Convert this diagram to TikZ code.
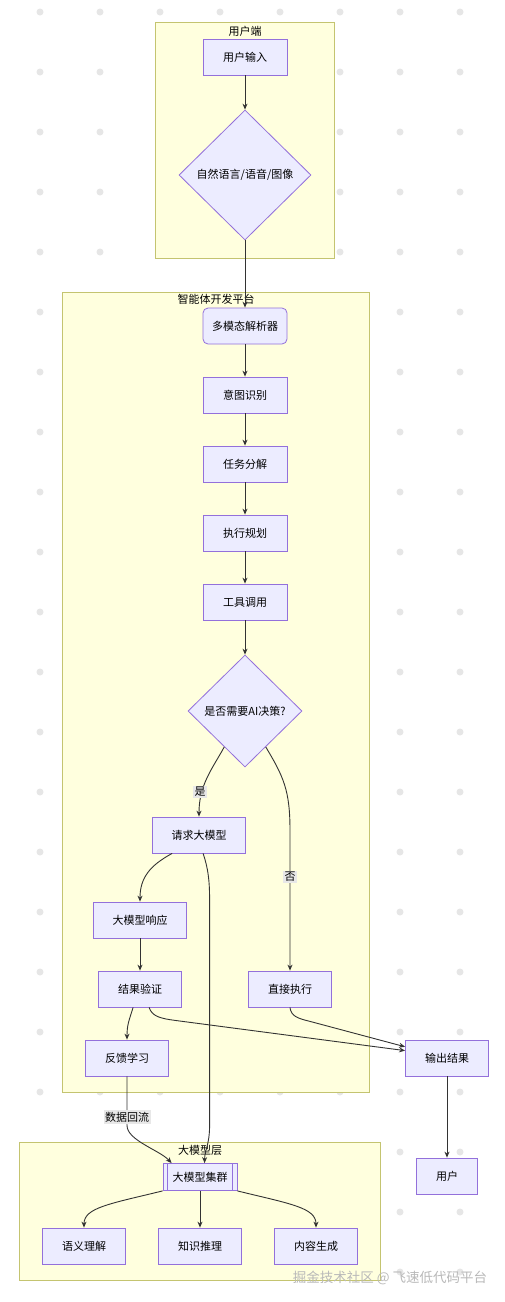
\documentclass[tikz,border=0pt]{standalone}
\usepackage{fontspec}
\setmainfont{Noto Sans CJK SC}
\usetikzlibrary{shapes.geometric,arrows.meta,calc}
\definecolor{nodefill}{HTML}{ECECFF}
\definecolor{nodeline}{HTML}{9370DB}
\definecolor{clfill}{HTML}{FFFFDE}
\definecolor{clline}{HTML}{C4C470}
\definecolor{edgec}{HTML}{333333}
\definecolor{dotc}{HTML}{E6E6E6}
\definecolor{lblbg}{HTML}{E8E8E8}
\begin{document}
\begin{tikzpicture}[x=1pt,y=-1pt,
  txt/.style={font=\fontsize{11}{13}\selectfont, text=black},
  box/.style={txt, rectangle, draw=nodeline, fill=nodefill, line width=0.8pt, minimum width=84pt, minimum height=36pt, inner sep=0pt},
  dia/.style={txt, diamond, aspect=1, draw=nodeline, fill=nodefill, line width=0.8pt, inner sep=0pt},
  cluster/.style={rectangle, draw=clline, fill=clfill, line width=0.8pt, anchor=north west, inner sep=0pt},
  arr/.style={draw=edgec, line width=0.9pt, -{Stealth[length=6pt,width=5pt]}},
  lbl/.style={txt, fill=lblbg, inner sep=1.5pt}
]
\useasboundingbox (0,0) rectangle (504,1302);
\fill[white] (0,0) rectangle (504,1302);
\foreach \i in {40,100,...,460} \foreach \j in {12,72,...,1272} \fill[dotc] (\i,\j) circle (3.5pt);

% clusters
\node[cluster, minimum width=179pt, minimum height=236pt] (cu) at (155,22) {};
\node[txt] (cut) at (245,31) {用户端};
\node[cluster, minimum width=307pt, minimum height=800pt] (cp) at (62,292) {};
\node[txt] (cpt) at (216,299) {智能体开发平台};
\node[cluster, minimum width=361pt, minimum height=138pt] (cm) at (19,1142) {};
\node[txt] (cmt) at (200,1150) {大模型层};

% nodes
\node[box] (ui) at (245,57) {用户输入};
\node[dia, minimum width=132pt, minimum height=130pt] (d1) at (245,175) {自然语言/语音/图像};
\node[box, rounded corners=5pt] (mm) at (245,326) {多模态解析器};
\node[box] (yt) at (245,395) {意图识别};
\node[box] (rw) at (245,464) {任务分解};
\node[box] (zx) at (245,533) {执行规划};
\node[box] (tc) at (245,602) {工具调用};
\node[dia, minimum width=114pt, minimum height=112pt] (d2) at (245,711) {是否需要AI决策?};
\node[box, minimum width=93pt] (rq) at (199,835) {请求大模型};
\node[box, minimum width=93pt] (rs) at (140,920) {大模型响应};
\node[box, minimum width=83pt] (rv) at (140,989) {结果验证};
\node[box, minimum width=83pt] (dx) at (290,989) {直接执行};
\node[box, minimum width=83pt] (fb) at (127,1058) {反馈学习};
\node[box, minimum width=83pt] (out) at (447,1058) {输出结果};
\node[box, minimum width=61pt] (us) at (447,1176) {用户};
\node[box, minimum width=74pt, minimum height=27pt] (cl) at (200,1177) {大模型集群};
\draw[nodeline, line width=0.8pt] ([xshift=5pt]cl.north west) -- ([xshift=5pt]cl.south west);
\draw[nodeline, line width=0.8pt] ([xshift=-5pt]cl.north east) -- ([xshift=-5pt]cl.south east);
\node[box, minimum width=83pt] (sy) at (84,1246) {语义理解};
\node[box, minimum width=83pt] (zs) at (200,1246) {知识推理};
\node[box, minimum width=83pt] (nr) at (316,1246) {内容生成};

% edges
\draw[arr] (ui) -- (d1);
\draw[arr] (d1) -- (mm);
\draw[arr] (mm) -- (yt);
\draw[arr] (yt) -- (rw);
\draw[arr] (rw) -- (zx);
\draw[arr] (zx) -- (tc);
\draw[arr] (tc) -- (d2);
\draw[arr] (d2.240) .. controls ($(d2.240)+(-12,22)$) and ($(rq.north)+(0,-32)$) .. (rq.north);
\node[lbl] (ly) at (200,792) {是};
\draw[arr] (d2.300) .. controls ($(d2.300)+(18,30)$) and ($(dx.north)+(0,-180)$) .. ($(dx.north)+(0,-140)$) -- (dx.north);
\node[lbl] (ln) at (290,877) {否};
\draw[arr] ([xshift=20pt]rq.south west) .. controls ($([xshift=20pt]rq.south west)+(-22,12)$) and ($(rs.north)+(0,-24)$) .. (rs.north);
\draw[arr] ([xshift=51pt]rq.south west) .. controls ($([xshift=51pt]rq.south west)+(5,15)$) and ($([xshift=47pt]cl.north west)+(0,-283)$) .. ($([xshift=47pt]cl.north west)+(0,-263)$) -- ($([xshift=47pt]cl.north west)+(0,-38)$) .. controls ($([xshift=47pt]cl.north west)+(0,-18)$) and ($([xshift=42pt]cl.north west)+(0,-13)$) .. ([xshift=42pt]cl.north west);
\draw[arr] (rs) -- (rv);
\draw[arr] ([xshift=35pt]rv.south west) .. controls ($([xshift=35pt]rv.south west)+(-4,13)$) and ($(fb.north)+(0,-15)$) .. (fb.north);
\draw[arr] ([xshift=51pt]rv.south west) .. controls ($([xshift=51pt]rv.south west)+(3,9)$) and ($([xshift=51pt]rv.south west)+(11,11)$) .. ($([xshift=51pt]rv.south west)+(26,13)$) -- (out.170);
\draw[arr] (dx.south) .. controls ($(dx.south)+(1,9)$) and ($(dx.south)+(8,11)$) .. ($(dx.south)+(20,14)$) -- (out.165);
\draw[arr] (fb.south) -- ($(fb.south)+(0,49)$) .. controls ($(fb.south)+(0,64)$) and ($([xshift=9pt]cl.north west)+(-12,-13)$) .. ([xshift=9pt]cl.north west);
\node[lbl] (ld) at (127,1117) {数据回流};
\draw[arr] (out) -- (us);
\draw[arr] (cl.south west) .. controls ($(cl.south west)+(-53,13)$) and ($(sy.north)+(0,-20)$) .. (sy.north);
\draw[arr] (cl) -- (zs);
\draw[arr] (cl.south east) .. controls ($(cl.south east)+(53,13)$) and ($(nr.north)+(0,-20)$) .. (nr.north);

% watermark
\node[font=\fontsize{13.5}{15}\selectfont, text=gray!55] (wm) at (390,1278) {掘金技术社区 @ 飞速低代码平台};
\end{tikzpicture}
\end{document}
